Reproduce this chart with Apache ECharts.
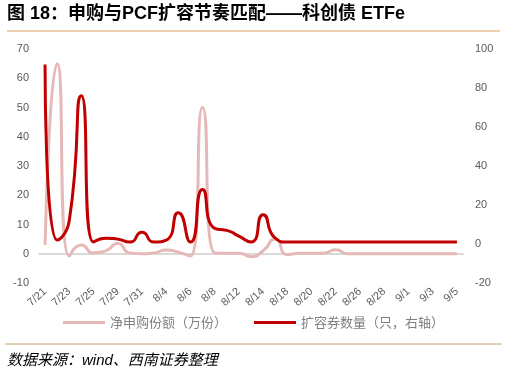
<!DOCTYPE html>
<html>
<head>
<meta charset="utf-8">
<script src="https://cdn.jsdelivr.net/npm/echarts@6/dist/echarts.min.js"></script>
<style>
  html, body { margin: 0; padding: 0; background: #fff; }
  #chart { width: 507px; height: 377px; }
</style>
</head>
<body>
<div id="chart"></div>
<script>
// 交易日
const dates = ['7/21', '7/22', '7/23', '7/24', '7/25', '7/28', '7/29', '7/30', '7/31', '8/1',
    '8/4', '8/5', '8/6', '8/7', '8/8', '8/11', '8/12', '8/13', '8/14', '8/15',
    '8/18', '8/19', '8/20', '8/21', '8/22', '8/25', '8/26', '8/27', '8/28', '8/29',
    '9/1', '9/2', '9/3', '9/4', '9/5'];

// 净申购份额（万份），左轴
const netSubscription = [3, 65, -0.8, 3, 0.3, 1, 3.5, 0.3, 0, 0.3,
    1.3, 0.5, -0.8, 50, 0.3, 0.2, 0.2, -1, 1, 5,
    -0.3, 0.2, 0.2, 0.2, 1.4, 0, 0, 0, 0, 0,
    0, 0, 0, 0, 0];

// 扩容券数量（只），右轴
const expandCount = [92, 2, 12, 76, 1, 3, 2.5, 1, 6, 1,
    2, 16, 1, 28, 8, 7, 4, 1, 15, 3,
    1, 1, 1, 1, 1, 1, 1, 1, 1, 1,
    1, 1, 1, 1, 1];

document.addEventListener("DOMContentLoaded", function () {
    const chart = echarts.init(document.getElementById('chart'));
    const axisFont = { color: '#595959', fontSize: 11, fontFamily: 'Liberation Sans' };

    chart.setOption({
        animation: false,
        textStyle: { fontFamily: 'Liberation Sans' },
        graphic: [
            {
                type: 'text', left: 7, top: 5,
                style: {
                    text: '图 18：申购与PCF扩容节奏匹配——科创债 ETFe',
                    fontSize: 18, fontWeight: 'bold', fill: '#000',
                    fontFamily: 'Liberation Sans, Noto Sans CJK SC'
                }
            },
            {
                type: 'line', shape: { x1: 7, y1: 31, x2: 500, y2: 31 },
                style: { stroke: '#DDA15A', lineWidth: 1 }
            },
            {
                type: 'line', shape: { x1: 5, y1: 344, x2: 502, y2: 344 },
                style: { stroke: '#C8A06A', lineWidth: 1 }
            },
            {
                type: 'text', left: 7, top: 353,
                style: {
                    text: '数据来源：wind、西南证券整理',
                    fontSize: 15, fontStyle: 'italic', fill: '#000',
                    fontFamily: 'Liberation Sans, Noto Sans CJK SC'
                }
            }
        ],
        legend: {
            left: 58, top: 311,
            itemWidth: 42, itemHeight: 3, itemGap: 27,
            icon: 'rect',
            textStyle: { color: '#7F7F7F', fontSize: 13, fontFamily: 'Noto Sans CJK SC' },
            data: ['净申购份额（万份）', '扩容券数量（只，右轴）']
        },
        grid: { left: 39, right: 44, top: 49, bottom: 94 },
        xAxis: {
            type: 'category',
            data: dates,
            boundaryGap: true,
            axisLine: { onZero: true, lineStyle: { color: '#D9D9D9', width: 2 } },
            axisTick: { show: false },
            axisLabel: Object.assign({ interval: 1, rotate: 42, margin: 7 }, axisFont)
        },
        yAxis: [
            {
                type: 'value', min: -10, max: 70, interval: 10,
                splitLine: { show: false },
                axisLine: { show: false },
                axisLabel: Object.assign({ margin: 10 }, axisFont)
            },
            {
                type: 'value', min: -20, max: 100, interval: 20,
                splitLine: { show: false },
                axisLine: { show: false },
                axisLabel: Object.assign({ margin: 12 }, axisFont)
            }
        ],
        series: [
            {
                name: '净申购份额（万份）',
                type: 'line',
                yAxisIndex: 0,
                smooth: 0.65,
                symbol: 'none',
                data: netSubscription,
                itemStyle: { color: '#E6B9B8' },
                lineStyle: { color: '#E6B9B8', width: 3 }
            },
            {
                name: '扩容券数量（只，右轴）',
                type: 'line',
                yAxisIndex: 1,
                smooth: 0.65,
                symbol: 'none',
                data: expandCount,
                itemStyle: { color: '#C00000' },
                lineStyle: { color: '#C00000', width: 3 }
            }
        ]
    });
});
</script>
</body>
</html>
